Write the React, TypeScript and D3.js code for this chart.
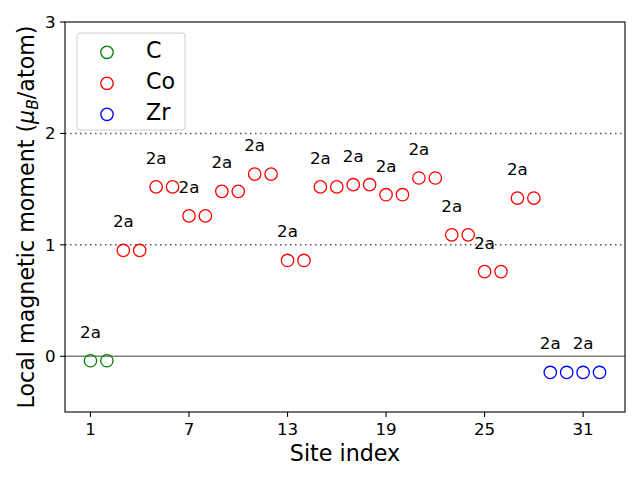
import React from "react";
import * as d3 from "d3";

// sites grouped by element
const cSites = [1, 2];
const cMoments = [-0.04, -0.04];
const coSites = [3, 4, 5, 6, 7, 8, 9, 10, 11, 12, 13, 14, 15, 16, 17, 18, 19, 20, 21, 22, 23, 24, 25, 26, 27, 28];
const coMoments = [0.95, 0.95, 1.52, 1.52, 1.26, 1.26, 1.48, 1.48, 1.635, 1.635, 0.86, 0.86, 1.52, 1.52, 1.54, 1.54, 1.45, 1.45, 1.6, 1.6, 1.09, 1.09, 0.76, 0.76, 1.42, 1.42];
const zrSites = [29, 30, 31, 32];
const zrMoments = [-0.145, -0.145, -0.145, -0.145];

// "2a" labels sit above the first site of each pair
const labelSites = [1, 3, 5, 7, 9, 11, 13, 15, 17, 19, 21, 23, 25, 27, 29, 31];

const xTicks = [1, 7, 13, 19, 25, 31];
const yTicks = [0, 1, 2, 3];

const series = [
  { name: "C", color: "green", sites: cSites, values: cMoments },
  { name: "Co", color: "red", sites: coSites, values: coMoments },
  { name: "Zr", color: "blue", sites: zrSites, values: zrMoments },
];

const W = 640, H = 480;
const left = 65, right = 625, top = 22, bottom = 412;

export default function App() {
  const x = d3.scaleLinear().domain([-0.55, 33.55]).range([left, right]);
  const y = d3.scaleLinear().domain([-0.5, 3]).range([bottom, top]);
  const allSites = series.flatMap(s => s.sites);
  const allVals = series.flatMap(s => s.values);
  const valueAt = (site: number) => allVals[allSites.indexOf(site)];
  const font = "DejaVu Sans, sans-serif";

  return (
    <svg width={W} height={H} style={{ position: "absolute", left: 0, top: 0 }} fontFamily={font}>
      <rect width={W} height={H} fill="white" />
      {[1, 2].map(v => (
        <line key={v} x1={left} x2={right} y1={y(v)} y2={y(v)} stroke="#555" strokeWidth={1.5} strokeDasharray="1.5,3.5" />
      ))}
      <line x1={left} x2={right} y1={y(0)} y2={y(0)} stroke="gray" strokeWidth={1.5} />
      {series.map(s =>
        s.sites.map((site, i) => (
          <circle key={s.name + site} cx={x(site)} cy={y(s.values[i])} r={6.2} fill="none" stroke={s.color} strokeWidth={1.3} />
        ))
      )}
      {labelSites.map(site => (
        <text key={site} x={x(site)} y={y(valueAt(site)) - 23} textAnchor="middle" fontSize={16.7}>2a</text>
      ))}
      <rect x={left} y={top} width={right - left} height={bottom - top} fill="none" stroke="black" strokeWidth={1.1} />
      {xTicks.map(t => (
        <g key={t}>
          <line x1={x(t)} x2={x(t)} y1={bottom} y2={bottom + 4.9} stroke="black" strokeWidth={1.1} />
          <text x={x(t)} y={bottom + 23} textAnchor="middle" fontSize={16.7}>{t}</text>
        </g>
      ))}
      {yTicks.map(t => (
        <g key={t}>
          <line x1={left - 4.9} x2={left} y1={y(t)} y2={y(t)} stroke="black" strokeWidth={1.1} />
          <text x={left - 9.5} y={y(t) + 6} textAnchor="end" fontSize={16.7}>{t}</text>
        </g>
      ))}
      <text x={(left + right) / 2} y={461} textAnchor="middle" fontSize={22.2}>Site index</text>
      <text transform={`translate(34,${(top + bottom) / 2}) rotate(-90)`} textAnchor="middle" fontSize={22.2}>
        Local magnetic moment (<tspan fontStyle="italic">μ</tspan>
        <tspan fontStyle="italic" fontSize={15.5} dy={3.5}>B</tspan>
        <tspan dy={-3.5}>/atom)</tspan>
      </text>
      <rect x={77} y={33} width={108} height={97} rx={3} fill="white" fillOpacity={0.8} stroke="#ccc" />
      {series.map((s, i) => (
        <g key={s.name}>
          <circle cx={107} cy={52.3 + i * 31} r={6.2} fill="none" stroke={s.color} strokeWidth={1.3} />
          <text x={146} y={57.5 + i * 31} fontSize={22.2}>{s.name}</text>
        </g>
      ))}
    </svg>
  );
}
